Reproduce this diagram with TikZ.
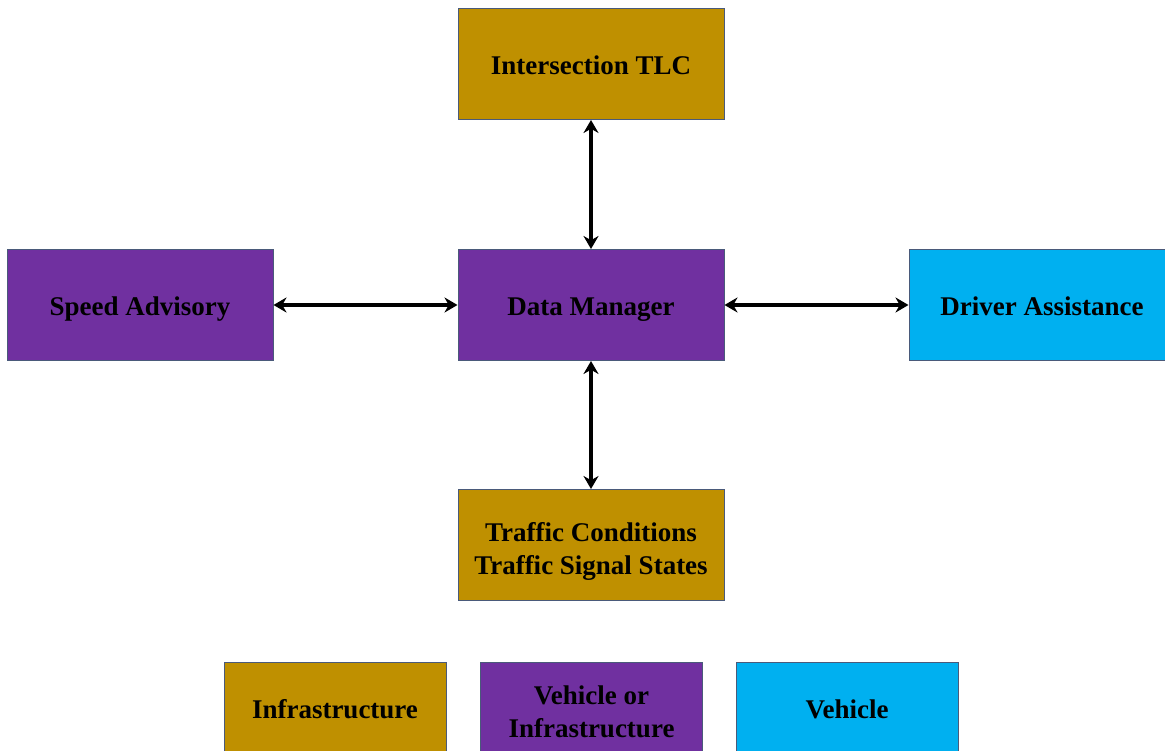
\documentclass[tikz,border=0pt]{standalone}
\usepackage{fontspec}
\setmainfont{Liberation Serif}
\usetikzlibrary{arrows.meta}
\definecolor{infra}{HTML}{BF9000}
\definecolor{vpurple}{HTML}{7030A0}
\definecolor{vcyan}{HTML}{00B0F0}
\definecolor{edge}{HTML}{4A5A7A}
\newcommand{\boxstrut}{\rule[-7pt]{0pt}{35pt}}
\newcommand{\tallstrut}{\rule[-7pt]{0pt}{40pt}}
\tikzset{
  box/.style={draw=edge, line width=1pt, minimum width=266pt, minimum height=111pt,
    inner sep=0pt, align=center, font=\fontsize{27}{33}\selectfont\bfseries, text=black,
    execute at begin node=\boxstrut, execute at end node=\boxstrut},
  legbox/.style={box, minimum width=222pt, minimum height=92pt},
  link/.style={line width=3.5pt, {Stealth[length=13pt,width=15pt]}-{Stealth[length=13pt,width=15pt]}}
}
\begin{document}
\begin{tikzpicture}[x=1pt,y=-1pt]
\useasboundingbox (0,0) rectangle (1165,751);
\node[box, fill=infra] (tlc) at (591,64) {Intersection TLC};
\node[box, fill=vpurple] (dm) at (591,305) {Data Manager};
\node[box, fill=vpurple] (sa) at (140,305) {Speed Advisory};
\node[box, fill=vcyan] (da) at (1042,305) {Driver Assistance};
\node[box, fill=infra] (tc) at (591,545) {\tallstrut Traffic Conditions\\Traffic Signal States};
\node[legbox, fill=infra] (l1) at (335,708) {Infrastructure};
\node[legbox, fill=vpurple] (l2) at (591.5,708) {\tallstrut Vehicle or\\Infrastructure};
\node[legbox, fill=vcyan] (l3) at (847,708) {Vehicle};
\draw[link] (tlc.south) -- (dm.north);
\draw[link] (dm.south) -- (tc.north);
\draw[link] (sa.east) -- (dm.west);
\draw[link] (dm.east) -- (da.west);
\end{tikzpicture}
\end{document}
